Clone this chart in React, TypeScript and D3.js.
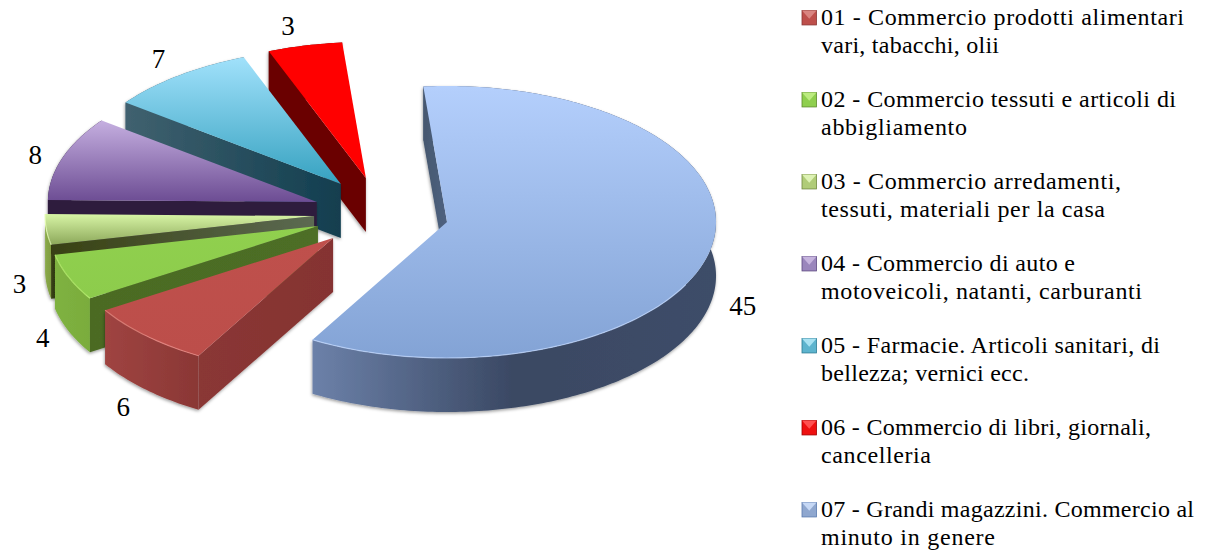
import React from "react";
import * as d3 from "d3";

const W = 1208, H = 552;

// ---- data ----
const categories = ["01", "02", "03", "04", "05", "06", "07"];
const values = [5.9, 4.2, 2.75, 7.6, 6.75, 3.4, 45.4];
const legendLines = [
  ["01 - Commercio prodotti alimentari", "vari, tabacchi, olii"],
  ["02 - Commercio tessuti e articoli di", "abbigliamento"],
  ["03 - Commercio arredamenti,", "tessuti, materiali per la casa"],
  ["04 - Commercio di auto e", "motoveicoli, natanti, carburanti"],
  ["05 - Farmacie. Articoli sanitari, di", "bellezza; vernici ecc."],
  ["06 - Commercio di libri, giornali,", "cancelleria"],
  ["07 - Grandi magazzini. Commercio al", "minuto in genere"],
];
const legendWidths = [
  [363, 178], [355, 146], [300, 284], [254, 321], [339, 208], [330, 110], [373, 174],
];
const topStops = [
  ["#BF504C", "#BC4E4A"],
  ["#90D04E", "#8DCC4C"],
  ["#D8F5A6", "#8CA85A"],
  ["#C5AFE0", "#6C4C93"],
  ["#A1E1FB", "#36A2C0"],
  ["#FF0000", "#FF0000"],
  ["#B4CFFC", "#83A3D5"],
];
const rimStops = [
  ["#9F4441", "#8A3735"],
  ["#7FB240", "#7AAC3D"],
  ["#8AAA48", "#7F9C42"],
  ["#2E1D3E", "#2E1D3E"],
  ["#3F6070", "#3F6070"],
  ["#6B0000", "#6B0000"],
  ["#6C81A9", "#3A4863", "#3E4D68"],
];
const edgeStops = [
  ["#8A3735", "#853331"],
  ["#4B6B24", "#4D6E25"],
  ["#384112", "#5C6A52"],
  ["#2E1D3E", "#2E1D3E"],
  ["#40616F", "#123E4F"],
  ["#6B0000", "#6B0000"],
  ["#46586F", "#4E6180"],
];
const glowColors = ["#E5857F", "#B8F070", "#E8FFB8", "#B59AD0", "#A8E4F8", "#FF2020", "#C2D8FF"];
const glowOpacity = [0.8, 0.8, 0.8, 0, 0, 0, 0.7];
const legendMain = ["#BE4F4B", "#8FCF4E", "#B0CC78", "#9A86BC", "#5DB4CE", "#EE1010", "#8FA7CF"];
const legendLight = ["#D98480", "#BCEB80", "#DDF2B4", "#C6B4DE", "#A8E2F2", "#FF5050", "#C6D8F5"];
const legendDark = ["#8A3634", "#5E8B2C", "#71893F", "#5E4A80", "#2C7C94", "#A00000", "#5A7AAE"];

// ---- layout ----
const cx = 379, cy = 213;
const rx = 269, ry = 136;
const explodeX = [0.246, 0.245, 0.2425, 0.244, 0.235, 0.215, 0.259];
const explodeY = [0.255, 0.255, 0.23, 0.25, 0.267, 0.264, 0.306];
const depth = 54;
const firstAngle = (210 * Math.PI) / 180;
const labelNudge: [number, number][] = [[-23, 17], [-26, 7], [-27, 1], [-27, -3], [-20, -17], [-17, -20], [33, 1]];

const pie = d3.pie<number>().sort(null).startAngle(firstAngle).endAngle(firstAngle + 2 * Math.PI);
const arcs = pie(values);

const ellipseX = d3.scaleLinear().domain([-1, 1]).range([-rx, rx]);
const ellipseY = d3.scaleLinear().domain([-1, 1]).range([-ry, ry]);
const line = d3.line<[number, number]>();

const legendY = d3.scalePoint<string>().domain(categories).range([17, 17 + 82 * 6]);

function sliceGeom(a: d3.PieArcDatum<number>, i: number) {
  const mid = (a.startAngle + a.endAngle) / 2;
  const ox = cx + explodeX[i] * ellipseX(Math.sin(mid));
  const oy = cy + explodeY[i] * ellipseY(-Math.cos(mid));
  const pt = (t: number): [number, number] => [ox + ellipseX(Math.sin(t)), oy + ellipseY(-Math.cos(t))];
  const n = Math.max(2, Math.ceil((a.endAngle - a.startAngle) / (Math.PI / 180)));
  const angleAt = (k: number) => a.startAngle + ((a.endAngle - a.startAngle) * k) / n;
  const rim = d3.range(n + 1).map((k) => pt(angleAt(k)));
  const apex: [number, number] = [ox, oy];
  const down = (p: [number, number]): [number, number] => [p[0], p[1] + depth];
  const top = line([apex, ...rim])! + "Z";
  const rimWall = line([...rim, ...rim.slice().reverse().map(down)])! + "Z";
  const edgeWall = line([apex, rim[0], down(rim[0]), down(apex)])! + "Z";
  const limit = i === 6 ? -0.45 : 0.3;
  const front = rim.filter((_, k) => Math.cos(angleAt(k)) < limit);
  return { mid, rimWall, edgeWall, top, rimLine: line(front.length > 1 ? front : rim)!, outer: pt(mid) };
}

function Stops({ c }: { c: string[] }) {
  return (
    <>
      {c.map((s, i) => (
        <stop key={i} offset={i / (c.length - 1)} stopColor={s} />
      ))}
    </>
  );
}

export default function App() {
  const geoms = arcs.map(sliceGeom);
  const font = "'Liberation Serif', serif";
  return (
    <svg width={W} height={H} viewBox={`0 0 ${W} ${H}`} style={{ position: "absolute", left: 0, top: 0, display: "block", background: "#fff" }}>
      <defs>
        <filter id="soft" x="-10%" y="-10%" width="120%" height="120%">
          <feDropShadow dx="-0.5" dy="1.5" stdDeviation="1.4" floodColor="#000" floodOpacity="0.38" />
        </filter>
        {categories.map((_, i) => (
          <React.Fragment key={i}>
            <linearGradient id={`top${i}`} x1="0" y1="0" x2="0" y2="1"><Stops c={topStops[i]} /></linearGradient>
            <linearGradient id={`rim${i}`} x1="0" y1="0" x2="1" y2="0"><Stops c={rimStops[i]} /></linearGradient>
            <linearGradient id={`edge${i}`} x1="0" y1="0" x2="1" y2="0"><Stops c={edgeStops[i]} /></linearGradient>
          </React.Fragment>
        ))}
      </defs>

      {/* paint from the back slice around to the front */}
      {[5, 4, 3, 2, 1, 0, 6].map((i) => {
        const g = geoms[i];
        return (
          <g key={i}>
            <g filter="url(#soft)">
              <path d={g.rimWall} fill={`url(#rim${i})`} />
              <path d={g.edgeWall} fill={`url(#edge${i})`} />
            </g>
            <path d={g.top} fill={`url(#top${i})`} />
            <path d={g.rimLine} fill="none" stroke={glowColors[i]} strokeWidth={1.2} strokeOpacity={glowOpacity[i]} />
          </g>
        );
      })}

      {/* value labels */}
      {arcs.map((a, i) => {
        const g = geoms[i];
        const drop = Math.cos(g.mid) < 0 ? depth : 0;
        return (
          <text
            key={i}
            x={g.outer[0] + labelNudge[i][0]}
            y={g.outer[1] + drop + labelNudge[i][1]}
            textAnchor="middle"
            dominantBaseline="central"
            fontFamily={font}
            fontSize={27}
            fill="#000"
          >
            {Math.round(a.data)}
          </text>
        );
      })}

      {/* legend */}
      {categories.map((c, i) => {
        const y = legendY(c)!;
        const x = 802, s = 14.5, my = y + 0.7;
        return (
          <g key={c}>
            <rect x={x} y={my - s / 2} width={s} height={s} fill={legendMain[i]} stroke={legendDark[i]} strokeWidth={0.8} />
            <path d={line([[x, my - s / 2], [x + s, my - s / 2], [x + s / 2, my + 1]])! + "Z"} fill={legendLight[i]} />
            <text fontFamily={font} fontSize={24} fill="#000">
              <tspan x={821} y={y + 8} textLength={legendWidths[i][0]} lengthAdjust="spacing">{legendLines[i][0]}</tspan>
            </text>
            <text fontFamily={font} fontSize={24} fill="#000">
              <tspan x={821} y={y + 36} textLength={legendWidths[i][1]} lengthAdjust="spacing">{legendLines[i][1]}</tspan>
            </text>
          </g>
        );
      })}
    </svg>
  );
}
